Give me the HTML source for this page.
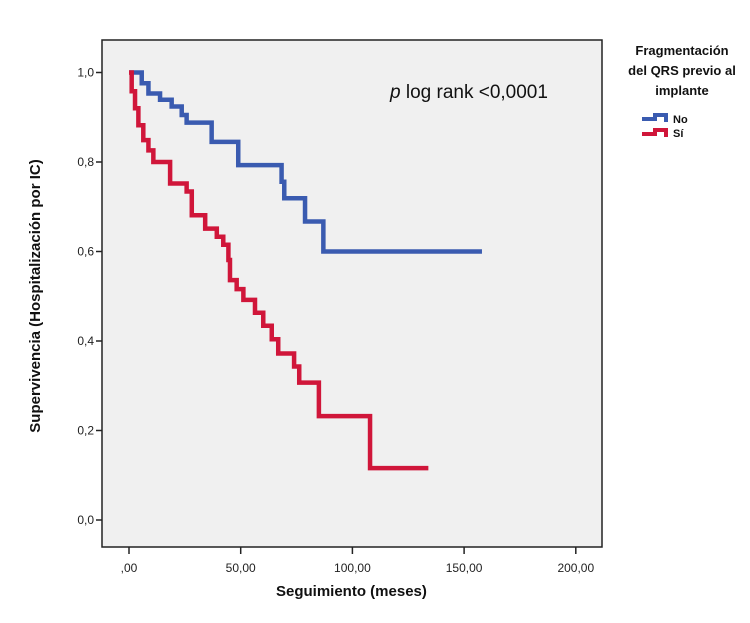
<!DOCTYPE html>
<html><head><meta charset="utf-8"><style>
body{margin:0;background:#fff;}
svg{display:block;font-family:"Liberation Sans",sans-serif;}
</style></head><body>
<svg id="chart" width="750" height="623">
<rect x="102" y="40" width="500" height="507" fill="#f0f0f0" stroke="#222" stroke-width="1.5"/>
<g id="axes"></g>
<g id="series"></g>
<text x="390" y="98" font-size="19" fill="#111"><tspan font-style="italic">p</tspan> log rank &lt;0,0001</text>
<text x="276" y="596" font-size="15" font-weight="bold" fill="#111">Seguimiento (meses)</text>
<text transform="translate(40,296) rotate(-90)" text-anchor="middle" font-size="15" font-weight="bold" fill="#111">Supervivencia  (Hospitalización  por IC)</text>
<g font-weight="bold" font-size="13" fill="#111">
<text x="682" y="55" text-anchor="middle">Fragmentación</text>
<text x="682" y="75" text-anchor="middle">del QRS previo al</text>
<text x="682" y="95" text-anchor="middle">implante</text>
<path d="M642,119 H655 V115 H666 V122" fill="none" stroke="#3a5bb0" stroke-width="4"/>
<text x="673" y="123" font-size="11">No</text>
<path d="M642,134 H655 V130 H666 V137" fill="none" stroke="#d0163a" stroke-width="4"/>
<text x="673" y="137" font-size="11">Sí</text>
</g>
</svg>
<script>
const xTicks=[0,50,100,150,200];
const xTickLabels=[",00","50,00","100,00","150,00","200,00"];
const yTicks=[0,0.2,0.4,0.6,0.8,1.0];
const yTickLabels=["0,0","0,2","0,4","0,6","0,8","1,0"];
const noTimes=[0,5.7,8.7,13.9,19.1,23.6,25.8,37.0,48.9,68.3,69.5,78.8,87.0];
const noSurv=[1.0,0.976,0.953,0.939,0.924,0.905,0.888,0.845,0.793,0.756,0.719,0.667,0.600];
const noEnd=158;
const siTimes=[0,1.2,2.7,4.2,6.4,8.7,10.9,18.4,25.8,28.1,34.1,39.3,42.2,44.5,45.2,48.2,51.2,56.4,60.1,63.9,66.8,73.9,76.2,85.0,107.9];
const siSurv=[1.0,0.958,0.92,0.882,0.849,0.826,0.80,0.752,0.734,0.681,0.651,0.633,0.615,0.581,0.536,0.516,0.492,0.463,0.434,0.404,0.372,0.343,0.307,0.232,0.116];
const siEnd=134;
const X=t=>129+t*2.234;
const Y=v=>520-v*447.5;
const NS="http://www.w3.org/2000/svg";
const axes=document.getElementById('axes'), series=document.getElementById('series');
function mk(tag,attrs,parent){const e=document.createElementNS(NS,tag);for(const k in attrs)e.setAttribute(k,attrs[k]);parent.appendChild(e);return e;}
xTicks.forEach((t,i)=>{
  const l=mk('line',{x1:X(t),x2:X(t),y1:547,y2:554,stroke:'#222','stroke-width':1.5},axes);
  
  
  const tx=mk('text',{x:X(t),y:572,'text-anchor':'middle','font-size':12,fill:'#222'},axes);
  tx.textContent=xTickLabels[i];
  
  
});
yTicks.forEach((v,i)=>{
  const l=mk('line',{x1:96,x2:102,y1:Y(v),y2:Y(v),stroke:'#222','stroke-width':1.5},axes);
  
  
  const tx=mk('text',{x:94,y:Y(v)+4,'text-anchor':'end','font-size':12,fill:'#222'},axes);
  tx.textContent=yTickLabels[i];
  
  
});
function stepPath(ts,vs,end){let d='M'+X(ts[0])+','+Y(vs[0]);for(let i=1;i<ts.length;i++){d+=' H'+X(ts[i])+' V'+Y(vs[i]);}d+=' H'+X(end);return d;}
const pn=mk('path',{d:stepPath(noTimes,noSurv,noEnd),fill:'none',stroke:'#3a5bb0','stroke-width':4.5},series);


const ps=mk('path',{d:stepPath(siTimes,siSurv,siEnd),fill:'none',stroke:'#d0163a','stroke-width':4.5},series);


</script>
</body></html>
